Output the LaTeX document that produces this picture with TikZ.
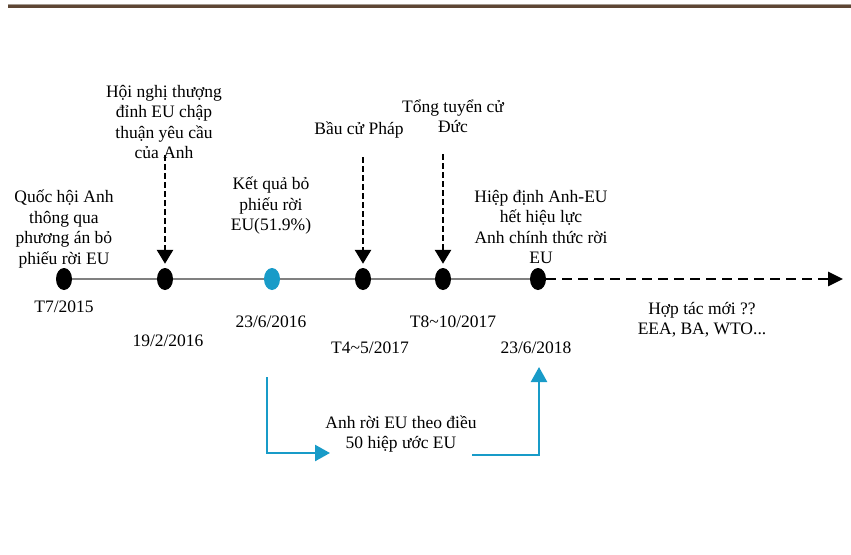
\documentclass[tikz,border=0pt]{standalone}
\usepackage{fontspec}
\setmainfont{Liberation Serif}
\usetikzlibrary{arrows.meta,shapes.geometric}
\definecolor{tlblue}{RGB}{24,155,200}
\definecolor{rulebrown}{RGB}{94,70,52}
\definecolor{rulegray}{RGB}{165,155,145}
\definecolor{tlgray}{RGB}{128,128,128}
\begin{document}
\begin{tikzpicture}[x=1pt,y=-1pt,
  txt/.style={align=center,font=\fontsize{17.5}{20.5}\selectfont,inner sep=0pt},
  dot/.style={ellipse,fill=black,minimum width=16pt,minimum height=22pt,inner sep=0pt},
  bluedot/.style={dot,fill=tlblue},
  tline/.style={draw=tlgray,line width=1.2pt},
  evarrow/.style={draw,line width=2.7pt,dash pattern=on 6pt off 3pt,shorten >=4pt,-{Triangle[width=16pt,length=14pt]}},
  futarrow/.style={draw,line width=2.7pt,dash pattern=on 10pt off 6pt,-{Triangle[width=14pt,length=15pt]}},
  bluearrow/.style={draw=tlblue,line width=2.4pt,-{Triangle[width=16pt,length=15pt]}}]
\useasboundingbox[fill=white] (0,0) rectangle (851,554);
% top rule
\coordinate (r0) at (8,4);
\coordinate (r1) at (851,4);
\coordinate (s0) at (8,6.3);
\coordinate (s1) at (851,6.3);
\draw[rulegray,line width=1pt] (r0) -- (r1);
\draw[rulebrown,line width=2.6pt] (s0) -- (s1);
% dots
\node[dot] (d1) at (64,279) {};
\node[dot] (d2) at (165,279) {};
\node[bluedot] (d3) at (272,279) {};
\node[dot] (d4) at (363,279) {};
\node[dot] (d5) at (443,279) {};
\node[dot] (d6) at (538,279) {};
\draw[tline] (d1) -- (d2) (d2) -- (d3) (d3) -- (d4) (d4) -- (d5) (d5) -- (d6);
\coordinate (fend) at (843,279);
\draw[futarrow] (d6) -- (fend);
% event texts
\node[txt] (e1) at (64,229) {Quốc hội Anh\\thông qua\\phương án bỏ\\phiếu rời EU};
\node[txt] (e2) at (164,122) {Hội nghị thượng\\đỉnh EU chập\\thuận yêu cầu\\của Anh};
\node[txt] (e3) at (271,206) {Kết quả bỏ\\phiếu rời\\EU(51.9\%)};
\node[txt] (e4) at (359,130) {Bầu cử Pháp};
\node[txt] (e5) at (453,116) {Tổng tuyển cử\\Đức};
\node[txt] (e6) at (541,227) {Hiệp định Anh-EU\\hết hiệu lực\\Anh chính thức rời\\EU};
\node[txt] (e7) at (702,320) {Hợp tác mới ??\\EEA, BA, WTO...};
% dates
\node[txt] (t1) at (64,307) {T7/2015};
\node[txt] (t2) at (168,341) {19/2/2016};
\node[txt] (t3) at (271,322) {23/6/2016};
\node[txt] (t4) at (370,348) {T4\textasciitilde5/2017};
\node[txt] (t5) at (453,322) {T8\textasciitilde10/2017};
\node[txt] (t6) at (536,348) {23/6/2018};
% event arrows
\coordinate (a2) at (165,155);
\coordinate (a4) at (363,157);
\coordinate (a5) at (443,154);
\draw[evarrow] (a2) -- (d2.north);
\draw[evarrow] (a4) -- (d4.north);
\draw[evarrow] (a5) -- (d5.north);
% article 50 path
\node[txt] (art) at (401,434) {Anh rời EU theo điều\\50 hiệp ước EU};
\coordinate (b1s) at (267,377);
\coordinate (b1e) at (330,453);
\draw[bluearrow] (b1s) |- (b1e);
\coordinate (b2s) at (472,455);
\coordinate (b2e) at (539,367);
\draw[bluearrow] (b2s) -| (b2e);
\end{tikzpicture}
\end{document}
